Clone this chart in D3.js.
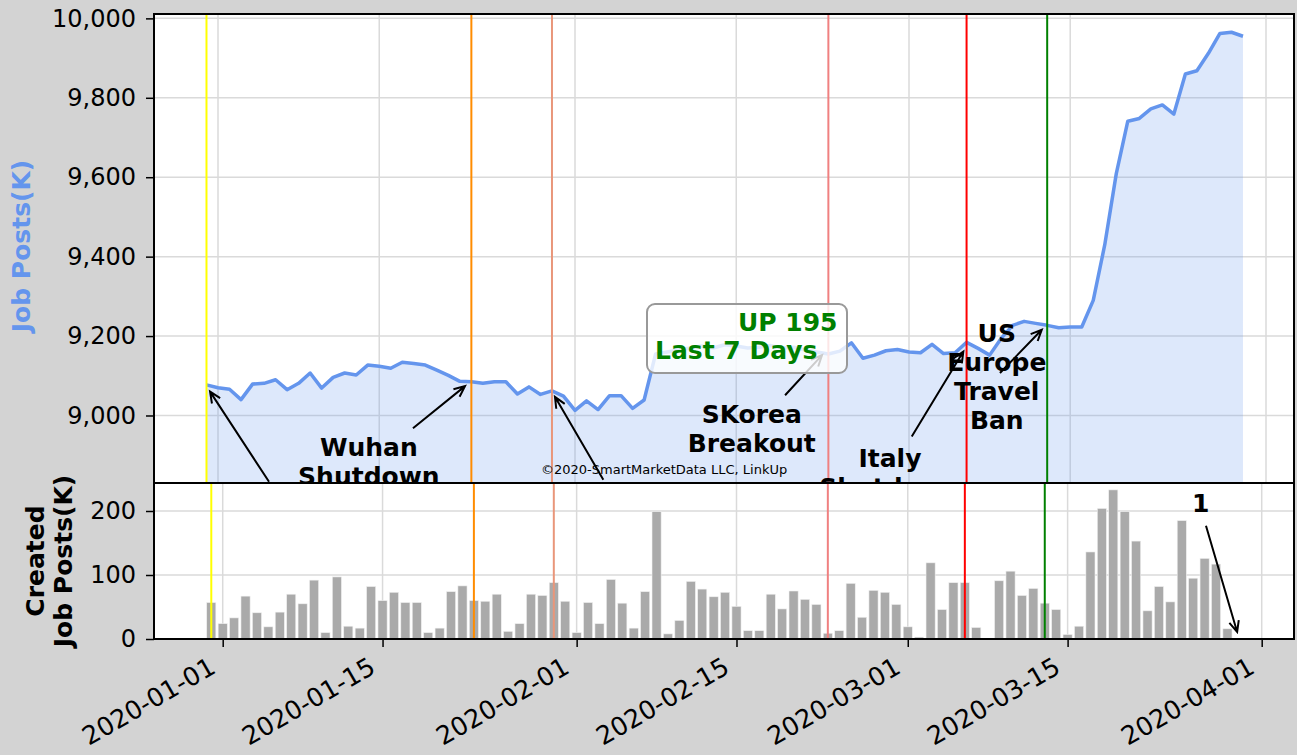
<!DOCTYPE html>
<html>
<head>
<meta charset="UTF-8">
<title>Job Posts</title>
<style>
  body {margin: 0; background: #d3d3d3;}
  svg {display: block; font-family: "DejaVu Sans", sans-serif;}
  .grid line {stroke: #dadada; stroke-width: 1.5;}
  .axis .tick text {font-size: 24px; fill: #000; font-family: "DejaVu Sans", sans-serif;}
  .axis .tick line {stroke: #000; stroke-width: 1.5;}
  .axis .domain {display: none;}
  .note {font-size: 25px; font-weight: bold; text-anchor: middle;}
</style>
</head>
<body>
<div id="chart"></div>
<script src="https://d3js.org/d3.v7.min.js"></script>
<script>
// data: daily values from 2019-12-31 to 2020-03-30
const firstDay = "2019-12-31";
const jobPosts = [
  9077,
  9070, 9066, 9040, 9079, 9081, 9090, 9065, 9081, 9107, 9069, 9096, 9107, 9102, 9127, 9124, 9119,
  9134, 9131, 9127, 9114, 9101, 9086, 9085, 9081, 9085, 9085, 9054, 9072, 9053, 9062, 9049,
  9013, 9037, 9015, 9050, 9050, 9018, 9039, 9155, 9160, 9165, 9170, 9175, 9170, 9178, 9175,
  9170, 9172, 9176, 9170, 9172, 9165, 9160, 9155, 9162, 9183, 9144, 9152, 9163, 9166,
  9160, 9158, 9179, 9156, 9158, 9184, 9169, 9152, 9194, 9227, 9237, 9232, 9227, 9221, 9223,
  9223, 9290, 9430, 9609, 9741, 9748, 9772, 9782, 9759, 9860, 9868, 9912, 9962, 9965, 9955
];
const createdPosts = [
  57,
  24, 33, 67, 41, 19, 42, 70, 55, 92, 10, 97, 20, 17, 82, 60, 73,
  57, 57, 10, 17, 74, 83, 60, 59, 70, 12, 24, 70, 68, 88, 59,
  10, 57, 24, 93, 56, 17, 74, 199, 8, 29, 90, 78, 66, 73, 51,
  13, 13, 70, 47, 75, 62, 54, 9, 13, 87, 34, 76, 73, 54,
  19, 3, 119, 46, 88, 88, 18, 0, 91, 106, 68, 79, 56, 46, 7,
  20, 136, 204, 233, 199, 153, 44, 82, 58, 185, 95, 126, 117, 16, 1
];
const eventDates = ["2019-12-31", "2020-01-23", "2020-01-30", "2020-02-23", "2020-03-06", "2020-03-13"];
const eventColors = ["#ffff00", "#ff8c00", "#e9967a", "#f08080", "#ff0000", "#008000"];
const topTicks = [9000, 9200, 9400, 9600, 9800, 10000];
const bottomTicks = [0, 100, 200];
const dateTicks = ["2020-01-01", "2020-01-15", "2020-02-01", "2020-02-15", "2020-03-01", "2020-03-15", "2020-04-01"];

// annotation layout, in data units (days after 2020-01-01, thousands of posts)
const notes = [
  {lines: ["Wuhan", "Shutdown"], tx: 13.1, ty: 8899, from: [16.93, 8968], to: [21.45, 9074]},
  {lines: [], from: [4.43, 8833], to: [-0.69, 9060]},
  {lines: [], from: [33.46, 8838], to: [29.26, 9047]},
  {lines: ["SKorea", "Breakout"], tx: 46.35, ty: 8980, from: [49.24, 9051], to: [52.45, 9152]},
  {lines: ["Italy", "Shutdown"], tx: 58.35, ty: 8871, from: [60.24, 8947], to: [64.72, 9161]},
  {lines: ["US", "Europe", "Travel", "Ban"], tx: 67.62, ty: 9186, from: [67.9, 9107], to: [71.53, 9216]}
];
const lastNote = {lines: ["1"], tx: 85.66, ty: 198, from: [86.12, 177], to: [88.85, 11]};

const width = 1297, height = 755;
const L = 154, R = 1294, T = 14, MID = 483, B = 639;

const parse = d3.utcParse("%Y-%m-%d");
const start = parse(firstDay);
const days = d3.utcDay.range(start, d3.utcDay.offset(start, jobPosts.length));
const jan1 = parse("2020-01-01"), apr1 = parse("2020-04-01");
const dayDate = d => new Date(jan1.getTime() + d * 864e5);

const xTop = d3.scaleUtc().domain([jan1, apr1]).range([218, 1266]);
const xBot = d3.scaleUtc().domain([jan1, apr1]).range([222.7, 1261.7]);
const yTop = d3.scaleLinear().domain([8830, 10011]).range([MID, T]);
const yBot = d3.scaleLinear().domain([0, 243.75]).range([B, MID]);

const svg = d3.select("#chart").append("svg").attr("width", width).attr("height", height);
const defs = svg.append("defs");
defs.append("clipPath").attr("id", "clipTop").append("rect").attr("x", L).attr("y", T).attr("width", R - L).attr("height", MID - T);
defs.append("clipPath").attr("id", "clipBot").append("rect").attr("x", L).attr("y", MID).attr("width", R - L).attr("height", B - MID);

function arrow(g, x1, y1, x2, y2) {
  const a = Math.atan2(y2 - y1, x2 - x1), hl = 12, hw = 0.42;
  g.append("path")
    .attr("d", `M${x1},${y1}L${x2},${y2}M${x2 - hl * Math.cos(a - hw)},${y2 - hl * Math.sin(a - hw)}L${x2},${y2}L${x2 - hl * Math.cos(a + hw)},${y2 - hl * Math.sin(a + hw)}`)
    .attr("fill", "none").attr("stroke", "#000").attr("stroke-width", 2);
}

function drawNote(g, n, xs, ys) {
  n.lines.forEach((t, i) => {
    g.append("text").attr("class", "note").attr("x", xs(dayDate(n.tx))).attr("y", ys(n.ty) + i * 29).text(t);
  });
  arrow(g, xs(dayDate(n.from[0])), ys(n.from[1]), xs(dayDate(n.to[0])), ys(n.to[1]));
}

// ---- top panel
const upper = svg.append("g").attr("clip-path", "url(#clipTop)");
upper.append("rect").attr("x", L).attr("y", T).attr("width", R - L).attr("height", MID - T).attr("fill", "#fff");
const gridTop = upper.append("g").attr("class", "grid");
gridTop.selectAll(".h").data(topTicks).join("line").attr("x1", L).attr("x2", R).attr("y1", d => yTop(d)).attr("y2", d => yTop(d));
gridTop.selectAll(".v").data(dateTicks).join("line").attr("y1", T).attr("y2", MID).attr("x1", d => xTop(parse(d))).attr("x2", d => xTop(parse(d)));

const series = days.map((d, i) => ({date: d, v: jobPosts[i], c: createdPosts[i]}));
upper.append("path").datum(series)
  .attr("d", d3.area().x(d => xTop(d.date)).y0(yTop(8830) + 40).y1(d => yTop(d.v)))
  .attr("fill", "#6495ed").attr("fill-opacity", 0.22);
upper.append("path").datum(series)
  .attr("d", d3.line().x(d => xTop(d.date)).y(d => yTop(d.v)))
  .attr("fill", "none").attr("stroke", "#6495ed").attr("stroke-width", 3.5).attr("stroke-linejoin", "round");

upper.selectAll(".ev").data(eventDates).join("line")
  .attr("x1", d => xTop(parse(d))).attr("x2", d => xTop(parse(d))).attr("y1", T).attr("y2", MID)
  .attr("stroke", (d, i) => eventColors[i]).attr("stroke-width", 2);

notes.forEach(n => drawNote(upper, n, xTop, yTop));

// summary box
upper.append("rect").attr("x", 647).attr("y", 304).attr("width", 200).attr("height", 69).attr("rx", 8)
  .attr("fill", "#fff").attr("fill-opacity", 0.8).attr("stroke", "#999").attr("stroke-width", 2);
upper.append("text").attr("x", 738).attr("y", 331).attr("font-size", 25).attr("font-weight", "bold").attr("fill", "#008000").text("UP 195");
upper.append("text").attr("x", 655).attr("y", 359).attr("font-size", 25).attr("font-weight", "bold").attr("fill", "#008000").text("Last 7 Days");

upper.append("text").attr("x", 541).attr("y", 474).attr("font-size", 13).attr("fill", "#000").text("©2020-SmartMarketData LLC, LinkUp");

svg.append("rect").attr("x", L).attr("y", T).attr("width", R - L).attr("height", MID - T)
  .attr("fill", "none").attr("stroke", "#000").attr("stroke-width", 2);

svg.append("g").attr("class", "axis").attr("transform", `translate(${L},0)`)
  .call(d3.axisLeft(yTop).tickValues(topTicks).tickFormat(d3.format(",")).tickSize(8).tickPadding(10));

svg.append("text").attr("transform", "translate(30,246) rotate(-90)")
  .attr("text-anchor", "middle").attr("font-size", 25).attr("font-weight", "bold").attr("fill", "#6495ed")
  .text("Job Posts(K)");

// ---- bottom panel
const lower = svg.append("g").attr("clip-path", "url(#clipBot)");
lower.append("rect").attr("x", L).attr("y", MID).attr("width", R - L).attr("height", B - MID).attr("fill", "#fff");
const gridBot = lower.append("g").attr("class", "grid");
gridBot.selectAll(".h").data(bottomTicks).join("line").attr("x1", L).attr("x2", R).attr("y1", d => yBot(d)).attr("y2", d => yBot(d));
gridBot.selectAll(".v").data(dateTicks).join("line").attr("y1", MID).attr("y2", B).attr("x1", d => xBot(parse(d))).attr("x2", d => xBot(parse(d)));

const dayW = xBot(d3.utcDay.offset(jan1, 1)) - xBot(jan1);
lower.selectAll(".bar").data(series).join("rect")
  .attr("x", d => xBot(d.date) - dayW * 0.4).attr("width", dayW * 0.8)
  .attr("y", d => yBot(d.c)).attr("height", d => yBot(0) - yBot(d.c))
  .attr("fill", "#aaaaaa").attr("stroke", "#f0f0f0").attr("stroke-width", 0.6);

lower.selectAll(".ev").data(eventDates).join("line")
  .attr("x1", d => xBot(parse(d))).attr("x2", d => xBot(parse(d))).attr("y1", MID).attr("y2", B)
  .attr("stroke", (d, i) => eventColors[i]).attr("stroke-width", 2);

drawNote(lower, lastNote, xBot, yBot);

svg.append("rect").attr("x", L).attr("y", MID).attr("width", R - L).attr("height", B - MID)
  .attr("fill", "none").attr("stroke", "#000").attr("stroke-width", 2);

svg.append("g").attr("class", "axis").attr("transform", `translate(${L},0)`)
  .call(d3.axisLeft(yBot).tickValues(bottomTicks).tickSize(8).tickPadding(10));

const xAxis = svg.append("g").attr("class", "axis").attr("transform", `translate(0,${B})`)
  .call(d3.axisBottom(xBot).tickValues(dateTicks.map(parse)).tickFormat(d3.utcFormat("%Y-%m-%d")).tickSize(8));
xAxis.selectAll(".tick text")
  .attr("x", 0).attr("y", 0).attr("dy", 0)
  .attr("text-anchor", "end")
  .style("font-size", "25.5px")
  .attr("transform", "translate(-6,33) rotate(-30)");

const yl = svg.append("text").attr("transform", "translate(44,561) rotate(-90)")
  .attr("text-anchor", "middle").attr("font-size", 25).attr("font-weight", "bold").attr("fill", "#000");
yl.append("tspan").attr("x", 0).attr("y", 0).text("Created");
yl.append("tspan").attr("x", 0).attr("y", 28).text("Job Posts(K)");
</script>
</body>
</html>
